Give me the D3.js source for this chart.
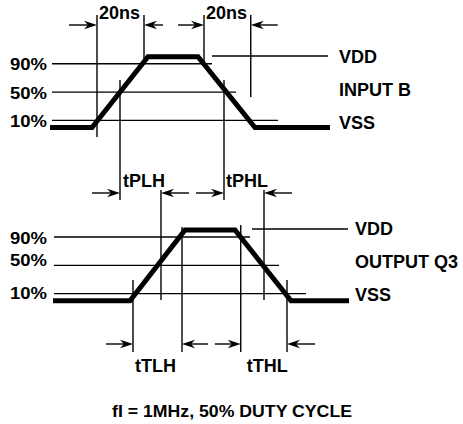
<!DOCTYPE html>
<html>
<head>
<meta charset="utf-8">
<script src="https://cdn.jsdelivr.net/npm/d3@7"></script>
<style>
  html, body { margin: 0; padding: 0; background: #fff; }
  svg { display: block; }
  text { font-family: "Liberation Sans", Arial, Helvetica, sans-serif; font-weight: bold; fill: #000; }
</style>
</head>
<body>
<svg id="chart" width="463" height="424"></svg>
<script>
// ---- data (time in ns, level in % of VDD) ----
const inputTimes   = [0, 16.8, 39.2, 59.2, 82, 112];
const inputLevels  = [0, 0, 100, 100, 0, 0];
const outputTimes  = [1.2, 32, 54, 74, 96.4, 119.6];
const outputLevels = [0, 0, 100, 100, 0, 0];

const thresholds      = [10, 50, 90];
const thresholdLabels = ["10%", "50%", "90%"];

// reference line extents (ns)
const inputRefStart  = 0.8;
const inputRefEnds   = [91.2, 74.4, 64.8];
const inputVddSpan   = [64.8, 111.2];
const outputRefStart = 1.6;
const outputRefEnds  = [102.4, 91.6, 80];
const outputVddSpan  = [80.8, 119.2];

// marker times (ns)
const inputMarkers  = { rise10: 18.8, rise50: 28, rise90: 37.6, fall90: 61.6, fall50: 69.6, fall10: 80.3 };
const outputMarkers = { rise10: 33.2, rise50: 44.4, rise90: 52.8, fall90: 76.3, fall50: 85.6, fall10: 94.8 };

const inputSideLabels  = ["VDD", "INPUT B", "VSS"];
const outputSideLabels = ["VDD", "OUTPUT Q3", "VSS"];
const transitionLabels = ["20ns", "20ns"];
const delayLabels      = ["tPLH", "tPHL"];
const outputTransLabels = ["tTLH", "tTHL"];
const caption = "fI = 1MHz, 50% DUTY CYCLE";

// ---- scales ----
const x = d3.scaleLinear().domain([0, 120]).range([50, 350]);
const yIn = d3.scaleLinear().domain([0, 100]).range([127.5, 56.7]);
const yOut = d3.scaleLinear().domain([0, 100]).range([300.7, 230]);

const svg = d3.select("#chart");
const thin = 1.4;

function hline(x1, x2, y) {
  svg.append("line").attr("x1", x1).attr("x2", x2).attr("y1", y).attr("y2", y)
    .attr("stroke", "#000").attr("stroke-width", thin);
}
function vline(xp, y1, y2) {
  svg.append("line").attr("x1", xp).attr("x2", xp).attr("y1", y1).attr("y2", y2)
    .attr("stroke", "#000").attr("stroke-width", thin);
}
// arrow pointing toward tip; dir = +1 points right, -1 points left
function arrow(tip, y, len, dir) {
  const start = tip - dir * len;
  const back = tip - dir * 9;
  svg.append("line").attr("x1", start).attr("x2", back).attr("y1", y).attr("y2", y)
    .attr("stroke", "#000").attr("stroke-width", thin);
  svg.append("path")
    .attr("d", `M${tip},${y} L${tip - dir * 13},${y - 4.2} L${back},${y} L${tip - dir * 13},${y + 4.2} Z`)
    .attr("fill", "#000");
}
function label(txt, xp, yp, size, anchor, len) {
  const t = svg.append("text").attr("x", xp).attr("y", yp)
    .attr("font-size", size).attr("text-anchor", anchor || "start").text(txt);
  if (len) t.attr("textLength", len).attr("lengthAdjust", "spacingAndGlyphs");
  return t;
}

// ---- reference (threshold) lines ----
thresholds.forEach((lv, i) => {
  hline(x(inputRefStart), x(inputRefEnds[i]), yIn(lv));
  hline(x(outputRefStart), x(outputRefEnds[i]), yOut(lv));
});
hline(x(inputVddSpan[0]), x(inputVddSpan[1]), yIn(100) - 0.7);
hline(x(outputVddSpan[0]), x(outputVddSpan[1]), yOut(100) - 1);

// ---- marker verticals ----
vline(x(inputMarkers.rise10), 15, 137);
vline(x(inputMarkers.rise90), 15, 63);
vline(x(inputMarkers.fall90), 15, 65);
vline(x(inputMarkers.fall10), 15, 97);
vline(x(inputMarkers.rise50), 80, 200);
vline(x(inputMarkers.fall50), 80, 200);
vline(x(outputMarkers.rise50), 190, 300);
vline(x(outputMarkers.fall50), 190, 300);
vline(x(outputMarkers.rise10), 280, 352);
vline(x(outputMarkers.rise90), 227, 352);
vline(x(outputMarkers.fall90), 225, 352);
vline(x(outputMarkers.fall10), 280, 352);

// ---- waveforms ----
const line = d3.line();
function wave(times, levels, ys) {
  svg.append("path")
    .attr("d", line(times.map((t, i) => [x(t), ys(levels[i])])))
    .attr("fill", "none").attr("stroke", "#000").attr("stroke-width", 5)
    .attr("stroke-linejoin", "miter").attr("stroke-linecap", "butt");
}
wave(inputTimes, inputLevels, yIn);
wave(outputTimes, outputLevels, yOut);

// ---- arrows ----
// top: transition times of the input
arrow(x(inputMarkers.rise10), 25, 28, 1);
arrow(x(inputMarkers.rise90), 25, 19, -1);
arrow(x(inputMarkers.fall90), 25, 26, 1);
arrow(x(inputMarkers.fall10), 25, 27, -1);
// middle: propagation delays
arrow(x(inputMarkers.rise50), 193, 28, 1);
arrow(x(outputMarkers.rise50), 193, 28, -1);
arrow(x(inputMarkers.fall50), 193, 28, 1);
arrow(x(outputMarkers.fall50), 193, 28, -1);
// bottom: output transition times
arrow(x(outputMarkers.rise10), 344, 27, 1);
arrow(x(outputMarkers.rise90), 344, 26, -1);
arrow(x(outputMarkers.fall90), 344, 26, 1);
arrow(x(outputMarkers.fall10), 344, 28, -1);

// ---- labels ----
const pctOffsetsIn = [6.5, 7, 6];
const pctOffsetsOut = [5.5, 1, 6.5];
thresholds.forEach((lv, i) => {
  label(thresholdLabels[i], 47, yIn(lv) + pctOffsetsIn[i], 16.5, "end", 37);
  label(thresholdLabels[i], 47, yOut(lv) + pctOffsetsOut[i], 16.5, "end", 37);
});

label(inputSideLabels[0], 339, 63, 18);
label(inputSideLabels[1], 339, 96, 18);
label(inputSideLabels[2], 339, 129, 18);
label(outputSideLabels[0], 355, 235, 18);
label(outputSideLabels[1], 355, 268, 18);
label(outputSideLabels[2], 355, 301, 18);

label(transitionLabels[0], x(inputMarkers.rise10) + 2, 19, 18);
label(transitionLabels[1], x(inputMarkers.fall90) + 2, 19, 18);
label(delayLabels[0], x(inputMarkers.rise50) + 3, 187, 18);
label(delayLabels[1], x(inputMarkers.fall50) + 2, 187, 18);
label(outputTransLabels[0], x(outputMarkers.rise10) + 2, 372, 18);
label(outputTransLabels[1], x(outputMarkers.fall90) + 6, 372, 18);

label(caption, 232, 417, 17, "middle", 240);
</script>
</body>
</html>
